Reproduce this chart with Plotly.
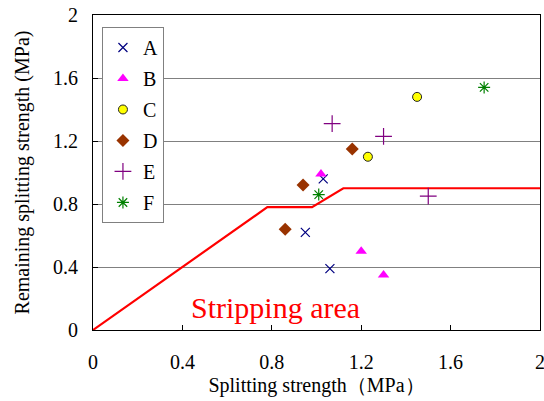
import plotly.graph_objects as go

# Data
series_names = ["A", "B", "C", "D", "E", "F"]
a_x = [0.95, 1.06, 1.03]
a_y = [0.62, 0.39, 0.96]
b_x = [1.02, 1.20, 1.30]
b_y = [0.99, 0.50, 0.35]
c_x = [1.45, 1.23]
c_y = [1.48, 1.10]
d_x = [1.16, 0.94, 0.86]
d_y = [1.15, 0.92, 0.64]
e_x = [1.07, 1.30, 1.50]
e_y = [1.31, 1.23, 0.85]
f_x = [1.75, 1.01]
f_y = [1.54, 0.86]

boundary_x = [0, 0.78, 0.98, 1.12, 2.0]
boundary_y = [0, 0.78, 0.78, 0.90, 0.90]

tick_vals = [0, 0.4, 0.8, 1.2, 1.6, 2]
tick_text = ["0", "0.4", "0.8", "1.2", "1.6", "2"]

FONT = '"Liberation Serif"'

fig = go.Figure()

fig.add_trace(go.Scatter(x=boundary_x, y=boundary_y, mode="lines",
                         line=dict(color="#ff0000", width=2.2),
                         showlegend=False, hoverinfo="skip"))

styles = {
    "A": dict(symbol="x-thin-open", color="#000080", size=9, line=dict(color="#000080", width=1.2)),
    "B": dict(symbol="triangle-up", color="#ff00ff", size=10, line=dict(width=0)),
    "C": dict(symbol="circle", color="#ffff00", size=9, line=dict(color="#222222", width=1)),
    "D": dict(symbol="diamond", color="#993300", size=10, line=dict(width=0)),
    "E": dict(symbol="cross-thin-open", color="#800080", size=12, line=dict(color="#800080", width=1.2)),
    "F": dict(symbol="asterisk-open", color="#008000", size=10, line=dict(color="#008000", width=1.2)),
}
data = {"A": (a_x, a_y), "B": (b_x, b_y), "C": (c_x, c_y),
        "D": (d_x, d_y), "E": (e_x, e_y), "F": (f_x, f_y)}

for name in series_names:
    xs, ys = data[name]
    fig.add_trace(go.Scatter(x=xs, y=ys, mode="markers", name=name,
                             legendgroup=name, marker=styles[name]))

fig.add_annotation(x=0.815, y=0.146, xref="x", yref="y", text="Stripping area",
                   showarrow=False, font=dict(family=FONT, size=30, color="#ff0000"))

fig.update_layout(
    width=544, height=401,
    margin=dict(l=93, r=4, t=15, b=71),
    paper_bgcolor="white", plot_bgcolor="white",
    font=dict(family=FONT, size=20, color="black"),
    showlegend=True,
    legend=dict(x=0.02, y=0.962, xanchor="left", yanchor="top",
                bordercolor="#808080", borderwidth=1, bgcolor="white",
                font=dict(family=FONT, size=20), tracegroupgap=2,
                itemwidth=30),
    xaxis=dict(range=[0, 2], tickvals=tick_vals, ticktext=tick_text,
               ticks="inside", ticklen=5, tickcolor="black",
               showline=True, linecolor="black", linewidth=1, mirror=True,
               showgrid=False, zeroline=False, ticklabelstandoff=14,
               ticklabeloverflow="allow", automargin=False,
               title=dict(text="Splitting strength（MPa）", font=dict(family=FONT, size=20), standoff=5)),
    yaxis=dict(range=[0, 2], tickvals=tick_vals, ticktext=tick_text,
               ticks="inside", ticklen=5, tickcolor="black",
               showline=True, linecolor="black", linewidth=1, mirror=True,
               showgrid=True, gridcolor="#808080", gridwidth=1, zeroline=False,
               ticklabelstandoff=10, ticklabeloverflow="allow", automargin=False,
               title=dict(text="Remaining splitting strength (MPa)", font=dict(family=FONT, size=20), standoff=18)),
)

fig.write_html("out.html", config={"displayModeBar": False},
               post_script="document.body.style.margin='0';document.body.style.overflow='hidden';")
